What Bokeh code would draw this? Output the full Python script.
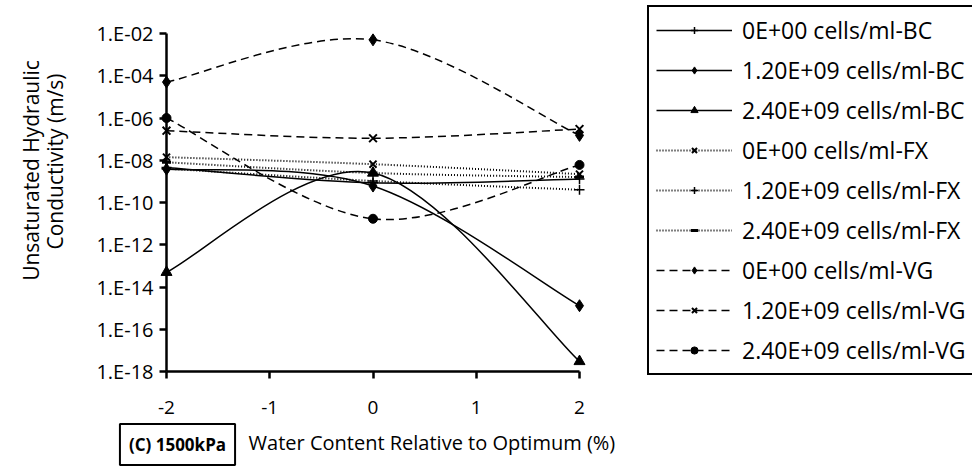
import numpy as np
from bokeh.plotting import figure
from bokeh.models import (Range1d, FixedTicker, CustomJSTickFormatter, Legend,
                          LegendItem, Label, LinearAxis, LogAxis)
from bokeh.embed import file_html
from bokeh.resources import INLINE

# ---------------- data ----------------
water_content = [-2, 0, 2]
x_ticks = [-2, -1, 0, 1, 2]
y_ticks = [1e-18, 1e-16, 1e-14, 1e-12, 1e-10, 1e-8, 1e-6, 1e-4, 1e-2]

labels = ["0E+00 cells/ml-BC", "1.20E+09 cells/ml-BC", "2.40E+09 cells/ml-BC",
          "0E+00 cells/ml-FX", "1.20E+09 cells/ml-FX", "2.40E+09 cells/ml-FX",
          "0E+00 cells/ml-VG", "1.20E+09 cells/ml-VG", "2.40E+09 cells/ml-VG"]

bc_0 = [4.5e-9, 8.5e-10, 1.3e-9]
bc_12 = [3.8e-9, 6e-10, 1.3e-15]
bc_24 = [5e-14, 2.5e-9, 3e-18]
fx_0 = [1.4e-8, 6.5e-9, 2.2e-9]
fx_12 = [4e-9, 1.05e-9, 4e-10]
fx_24 = [8e-9, 2.5e-9, 1.6e-9]
vg_0 = [5e-5, 5e-3, 1.5e-7]
vg_12 = [2.5e-7, 1.1e-7, 3e-7]
vg_24 = [1e-6, 1.7e-11, 6e-9]

series = [bc_0, bc_12, bc_24, fx_0, fx_12, fx_24, vg_0, vg_12, vg_24]
dashes = ["solid"] * 3 + ["1 2"] * 3 + ["8 5"] * 3
lwidths = [1.5] * 3 + [2] * 3 + [1.5] * 3
markers = ["cross", "diamond", "triangle", "x", "cross", "dash", "diamond", "x", "circle"]
msizes = [10, 12, 11, 10, 10, 9, 12, 11, 9]
mwidths = [1.5, 1, 1, 2, 1.5, 3, 1, 2, 1]

# ---------------- layout ----------------
W, H = 972, 466
AX_LEFT, AX_RIGHT = 166, 579      # pixel columns of x=-2 and x=2
AX_TOP, AX_BOTTOM = 33, 371       # pixel rows of 1E-02 and 1E-18
px_unit = (AX_RIGHT - AX_LEFT) / 4.0
px_dec = (AX_BOTTOM - AX_TOP) / 16.0
x_lo = -2 - AX_LEFT / px_unit
x_hi = 2 + (W - AX_RIGHT) / px_unit
y_hi = 10 ** (-2 + AX_TOP / px_dec)
y_lo = 10 ** (-18 - (H - AX_BOTTOM) / px_dec)

p = figure(width=W, height=H, output_backend="svg", toolbar_location=None,
           y_axis_type="log", x_axis_location=None, y_axis_location=None,
           x_range=Range1d(x_lo, x_hi), y_range=Range1d(y_lo, y_hi),
           min_border=0)
p.outline_line_color = None
p.grid.visible = False
p.background_fill_color = "white"
p.border_fill_color = "white"

FONT = "Open Sans"


def smooth(xs, ys):
    """Bezier segments through the data (Catmull-Rom style, in log space)."""
    lx = np.asarray(xs, float)
    ly = np.log10(np.asarray(ys, float))
    n = len(lx)
    out = dict(x0=[], y0=[], x1=[], y1=[], cx0=[], cy0=[], cx1=[], cy1=[])
    for i in range(n - 1):
        im = max(i - 1, 0)
        ip = min(i + 2, n - 1)
        out["x0"].append(lx[i]); out["y0"].append(10 ** ly[i])
        out["x1"].append(lx[i + 1]); out["y1"].append(10 ** ly[i + 1])
        out["cx0"].append(lx[i] + (lx[i + 1] - lx[im]) / 6)
        out["cy0"].append(10 ** (ly[i] + (ly[i + 1] - ly[im]) / 6))
        out["cx1"].append(lx[i + 1] - (lx[ip] - lx[i]) / 6)
        out["cy1"].append(10 ** (ly[i + 1] - (ly[ip] - ly[i]) / 6))
    return out


items = []
for vals, lab, dash, lw, mk, ms, mw in zip(series, labels, dashes, lwidths,
                                           markers, msizes, mwidths):
    seg = smooth(water_content, vals)
    bz = p.bezier(**seg, line_color="black", line_width=lw, line_dash=dash)
    sc = p.scatter(x=water_content, y=vals, marker=mk, size=ms,
                   line_color="black", fill_color="black", line_width=mw)
    items.append(LegendItem(label=lab, renderers=[bz, sc]))

# ---------------- axes ----------------
xaxis = LinearAxis(ticker=FixedTicker(ticks=x_ticks, minor_ticks=[]),
                   bounds=(-2, 2), fixed_location=1e-18)
xaxis.formatter = CustomJSTickFormatter(code="return String(Math.round(tick));")
yaxis = LogAxis(ticker=FixedTicker(ticks=y_ticks, minor_ticks=[]),
                bounds=(1e-18, 1e-2), fixed_location=-2)
yaxis.formatter = CustomJSTickFormatter(code="""
const e = Math.round(Math.log10(tick));
const s = e < 0 ? '-' : '+';
const a = Math.abs(e);
return '1.E' + s + (a < 10 ? '0' : '') + a;
""")
for ax in (xaxis, yaxis):
    ax.axis_line_width = 2.5
    ax.axis_line_color = "black"
    ax.major_tick_line_width = 2.5
    ax.major_tick_line_color = "black"
    ax.major_tick_out = 7
    ax.major_tick_in = 0
    ax.minor_tick_line_color = None
    ax.major_label_text_font = FONT
    ax.major_label_text_font_size = "19px"
    ax.major_label_text_color = "black"
yaxis.major_label_text_font_size = "20px"
xaxis.major_label_standoff = 22
yaxis.major_label_standoff = 6
p.add_layout(xaxis, "below")
p.add_layout(yaxis, "left")

# ---------------- texts (screen units: from bottom-left of canvas) ----------------
p.add_layout(Label(x=30, y=H - 170, x_units="screen", y_units="screen",
                   text="Unsaturated Hydraulic", angle=np.pi / 2,
                   text_font=FONT, text_font_size="21px", text_color="black",
                   text_align="center", text_baseline="middle"))
p.add_layout(Label(x=54, y=H - 161, x_units="screen", y_units="screen",
                   text="Conductivity (m/s)", angle=np.pi / 2,
                   text_font=FONT, text_font_size="21px", text_color="black",
                   text_align="center", text_baseline="middle"))
p.add_layout(Label(x=434, y=H - 442, x_units="screen", y_units="screen",
                   text="Water  Content Relative to Optimum (%)",
                   text_font=FONT, text_font_size="20px", text_color="black",
                   text_align="center", text_baseline="middle"))
p.add_layout(Label(x=177, y=H - 444, x_units="screen", y_units="screen",
                   text="(C) 1500kPa", text_font=FONT, text_font_size="17px",
                   text_font_style="bold", text_color="black",
                   text_align="center", text_baseline="middle",
                   border_line_color="black", border_line_width=2,
                   background_fill_color="white", padding=9))

legend = Legend(items=items, location=(647, H - 375),
                border_line_color="black", border_line_width=2,
                border_line_alpha=1,
                background_fill_color="white", background_fill_alpha=1,
                label_text_font=FONT, label_text_font_size="23px",
                label_text_color="black",
                glyph_width=76, glyph_height=18, label_height=22,
                spacing=8, padding=7, margin=0, label_standoff=10)
p.add_layout(legend)

open("out.html", "w").write(file_html(p, INLINE))
